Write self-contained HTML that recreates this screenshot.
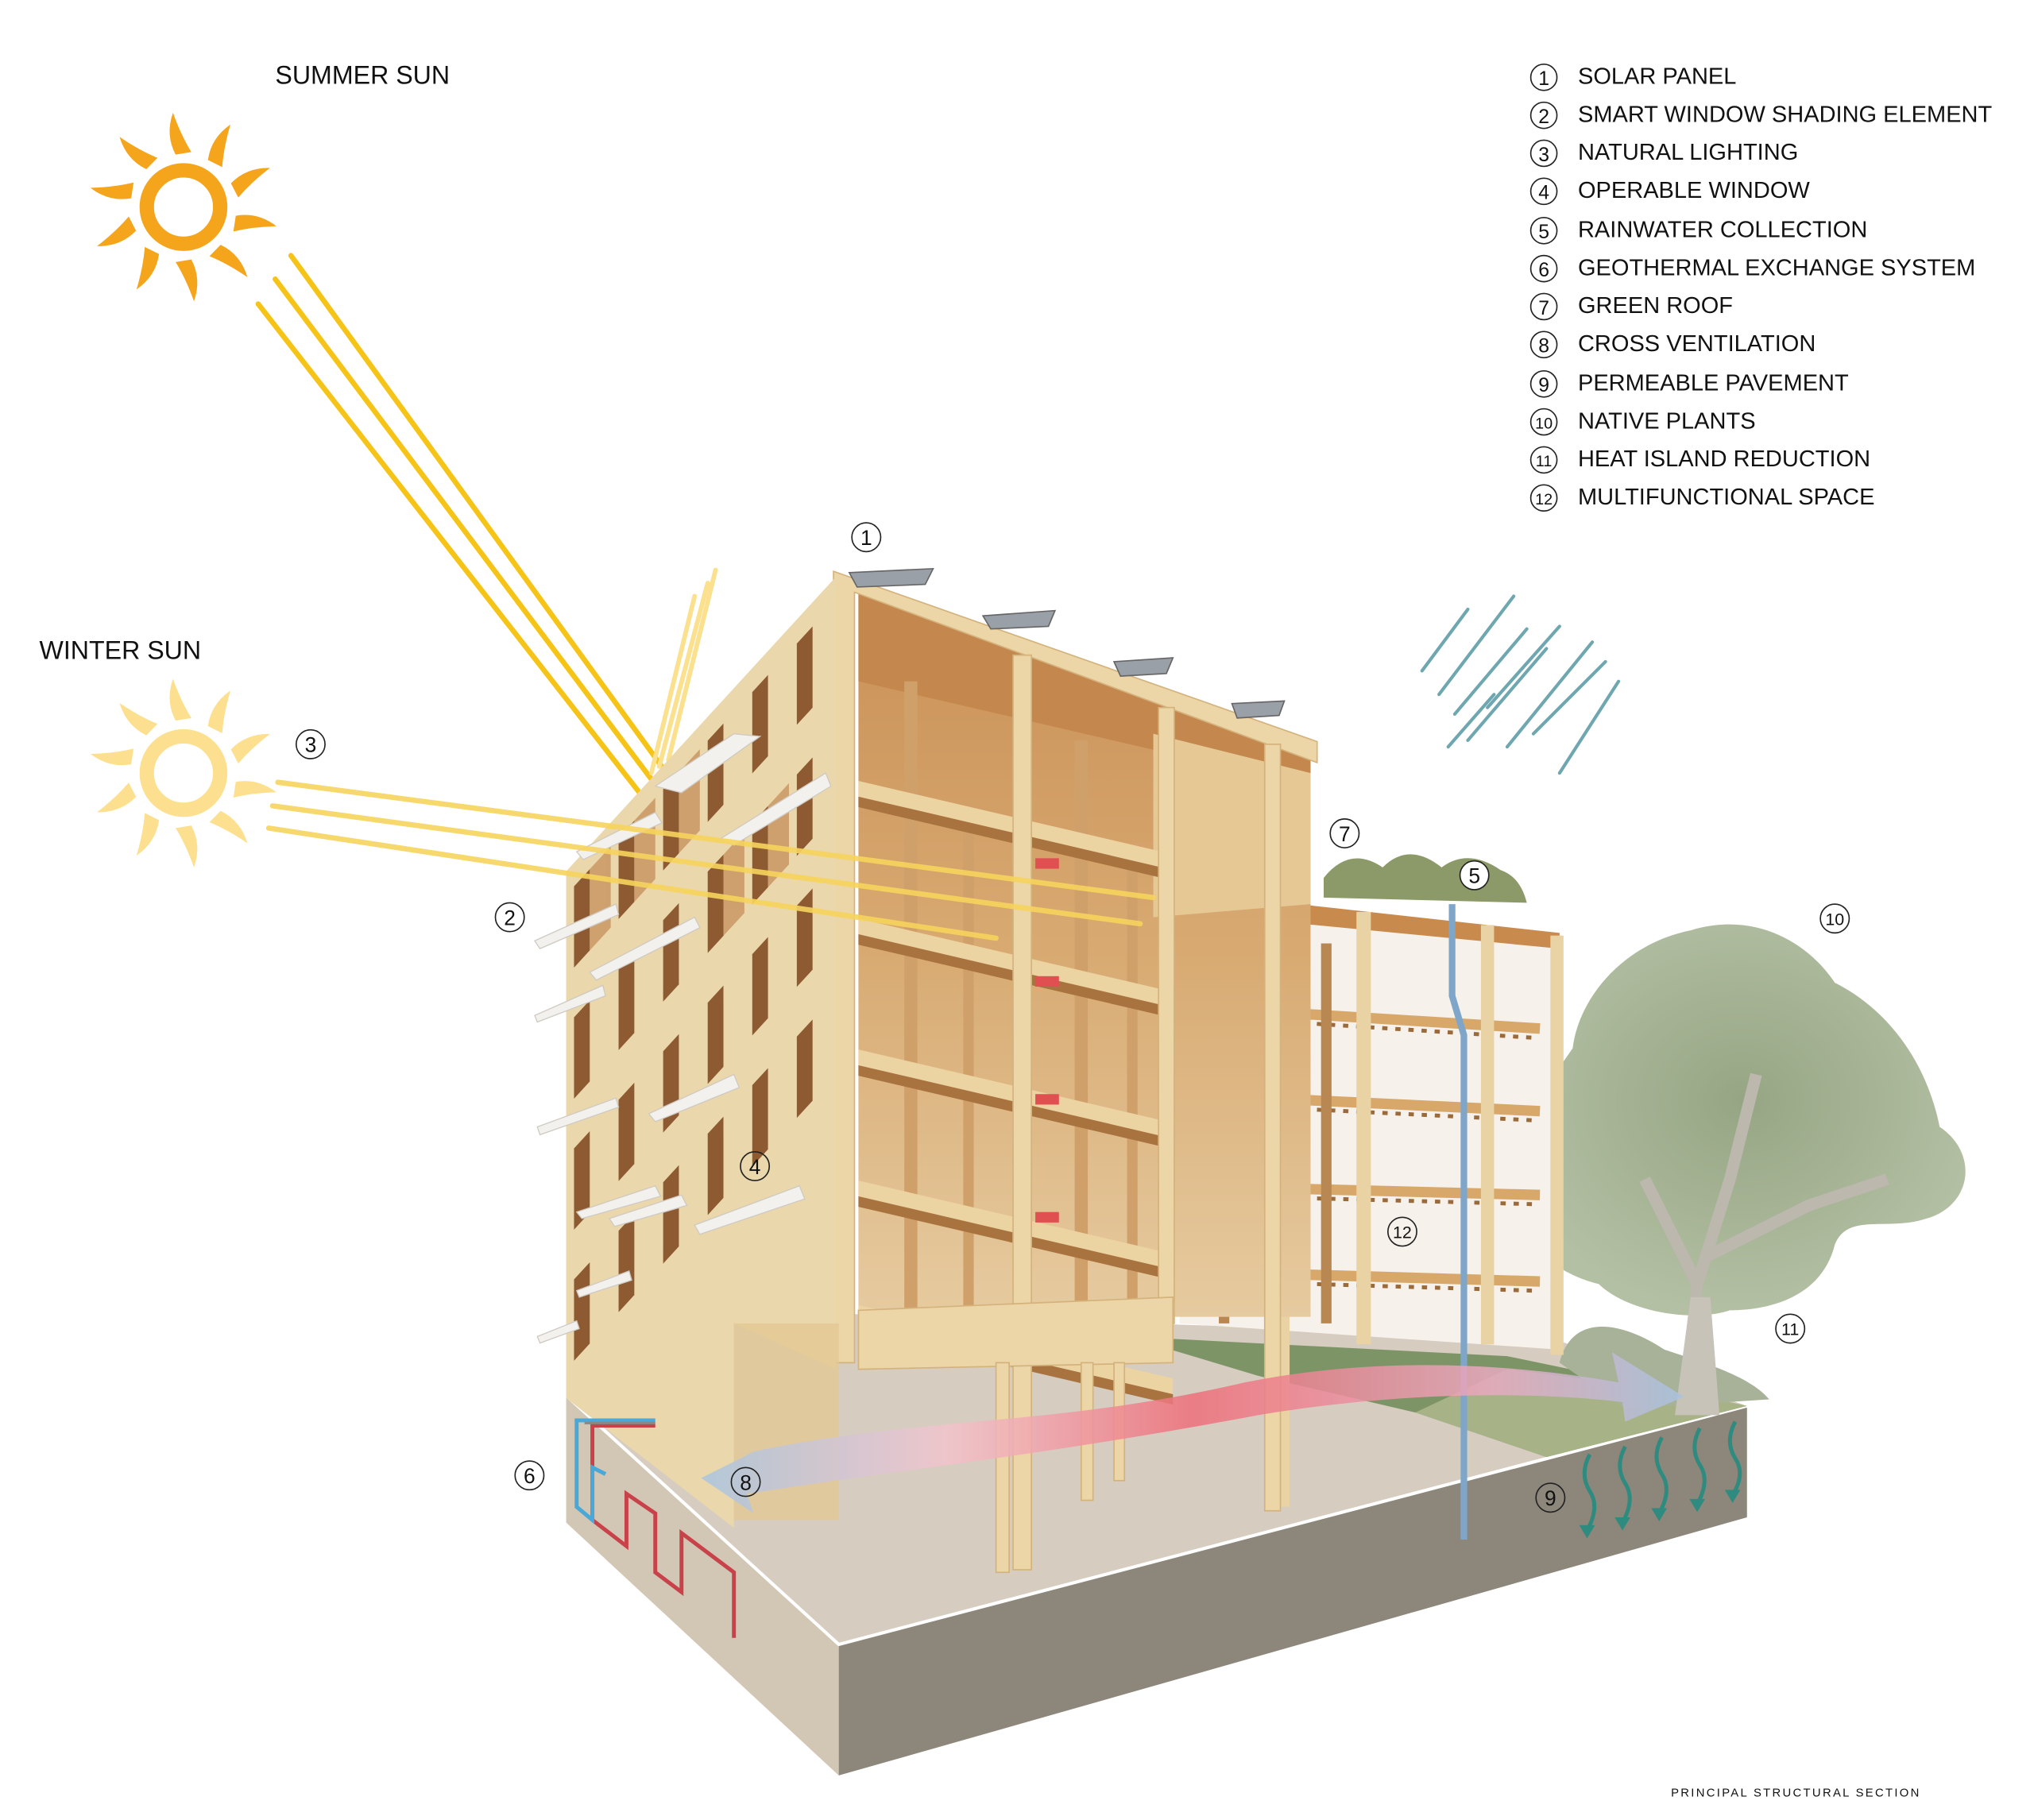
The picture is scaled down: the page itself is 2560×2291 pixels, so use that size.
<!DOCTYPE html>
<html><head><meta charset="utf-8"><style>
html,body{margin:0;padding:0;background:#fff;}
svg{display:block;}
text{font-family:"Liberation Sans",sans-serif;fill:#111;}
</style></head><body>
<svg width="2560" height="2291" viewBox="0 0 1552 1389" preserveAspectRatio="none" xmlns="http://www.w3.org/2000/svg">
<defs>
<linearGradient id="intg" x1="0" y1="0" x2="0" y2="1"><stop offset="0" stop-color="#c98f55"/><stop offset="0.5" stop-color="#d8aa72"/><stop offset="1" stop-color="#e6cba0"/></linearGradient>
<linearGradient id="wind" x1="0" y1="0" x2="1" y2="0"><stop offset="0" stop-color="#a9c6e0"/><stop offset="0.25" stop-color="#f2c4cc"/><stop offset="0.5" stop-color="#ee6f7a"/><stop offset="0.8" stop-color="#e9a9bf"/><stop offset="1" stop-color="#a9c3e0"/></linearGradient>
<radialGradient id="tree" cx="0.5" cy="0.45" r="0.55"><stop offset="0" stop-color="#96a684"/><stop offset="1" stop-color="#b4c0a4"/></radialGradient>
</defs>

<!-- legend -->
<g font-size="17.6">
<circle cx="1178" cy="59" r="10" fill="none" stroke="#222" stroke-width="1"/><text x="1178" y="65" font-size="15" text-anchor="middle">1</text><text x="1204" y="64">SOLAR PANEL</text>
<circle cx="1178" cy="88" r="10" fill="none" stroke="#222" stroke-width="1"/><text x="1178" y="94" font-size="15" text-anchor="middle">2</text><text x="1204" y="93">SMART WINDOW SHADING ELEMENT</text>
<circle cx="1178" cy="117" r="10" fill="none" stroke="#222" stroke-width="1"/><text x="1178" y="123" font-size="15" text-anchor="middle">3</text><text x="1204" y="122">NATURAL LIGHTING</text>
<circle cx="1178" cy="146" r="10" fill="none" stroke="#222" stroke-width="1"/><text x="1178" y="152" font-size="15" text-anchor="middle">4</text><text x="1204" y="151">OPERABLE WINDOW</text>
<circle cx="1178" cy="176" r="10" fill="none" stroke="#222" stroke-width="1"/><text x="1178" y="182" font-size="15" text-anchor="middle">5</text><text x="1204" y="181">RAINWATER COLLECTION</text>
<circle cx="1178" cy="205" r="10" fill="none" stroke="#222" stroke-width="1"/><text x="1178" y="211" font-size="15" text-anchor="middle">6</text><text x="1204" y="210">GEOTHERMAL EXCHANGE SYSTEM</text>
<circle cx="1178" cy="234" r="10" fill="none" stroke="#222" stroke-width="1"/><text x="1178" y="240" font-size="15" text-anchor="middle">7</text><text x="1204" y="239">GREEN ROOF</text>
<circle cx="1178" cy="263" r="10" fill="none" stroke="#222" stroke-width="1"/><text x="1178" y="269" font-size="15" text-anchor="middle">8</text><text x="1204" y="268">CROSS VENTILATION</text>
<circle cx="1178" cy="293" r="10" fill="none" stroke="#222" stroke-width="1"/><text x="1178" y="299" font-size="15" text-anchor="middle">9</text><text x="1204" y="298">PERMEABLE PAVEMENT</text>
<circle cx="1178" cy="322" r="10" fill="none" stroke="#222" stroke-width="1"/><text x="1178" y="327" font-size="12" text-anchor="middle">10</text><text x="1204" y="327">NATIVE PLANTS</text>
<circle cx="1178" cy="351" r="10" fill="none" stroke="#222" stroke-width="1"/><text x="1178" y="356" font-size="12" text-anchor="middle">11</text><text x="1204" y="356">HEAT ISLAND REDUCTION</text>
<circle cx="1178" cy="380" r="10" fill="none" stroke="#222" stroke-width="1"/><text x="1178" y="385" font-size="12" text-anchor="middle">12</text><text x="1204" y="385">MULTIFUNCTIONAL SPACE</text>
</g>

<text x="210" y="64" font-size="19.5">SUMMER SUN</text>
<text x="30" y="503" font-size="19.5">WINTER SUN</text>
<text x="1275" y="1371" font-size="9" letter-spacing="1.4">PRINCIPAL STRUCTURAL SECTION</text>

<!-- summer sun -->
<g transform="translate(140,158)" fill="#f5a51c">
<circle r="28" fill="none" stroke="#f5a51c" stroke-width="11"/>
<g id="rays">
<path d="M-6,-40 Q-14,-55 -8,-72 Q-2,-55 6,-42Z"/>
<path d="M-6,-40 Q-14,-55 -8,-72 Q-2,-55 6,-42Z" transform="rotate(36)"/>
<path d="M-6,-40 Q-14,-55 -8,-72 Q-2,-55 6,-42Z" transform="rotate(72)"/>
<path d="M-6,-40 Q-14,-55 -8,-72 Q-2,-55 6,-42Z" transform="rotate(108)"/>
<path d="M-6,-40 Q-14,-55 -8,-72 Q-2,-55 6,-42Z" transform="rotate(144)"/>
<path d="M-6,-40 Q-14,-55 -8,-72 Q-2,-55 6,-42Z" transform="rotate(180)"/>
<path d="M-6,-40 Q-14,-55 -8,-72 Q-2,-55 6,-42Z" transform="rotate(216)"/>
<path d="M-6,-40 Q-14,-55 -8,-72 Q-2,-55 6,-42Z" transform="rotate(252)"/>
<path d="M-6,-40 Q-14,-55 -8,-72 Q-2,-55 6,-42Z" transform="rotate(288)"/>
<path d="M-6,-40 Q-14,-55 -8,-72 Q-2,-55 6,-42Z" transform="rotate(324)"/>
</g></g>
<!-- winter sun -->
<g transform="translate(140,590)" fill="#fde08f">
<circle r="28" fill="none" stroke="#fde08f" stroke-width="11"/>
<use href="#rays"/>
</g>

<!-- summer rays -->
<g stroke="#f6c417" stroke-width="4" stroke-linecap="round">
<line x1="222" y1="195" x2="505" y2="585"/>
<line x1="210" y1="213" x2="498" y2="596"/>
<line x1="197" y1="232" x2="488" y2="605"/>
</g>
<g stroke="#fbe08e" stroke-width="3.5" stroke-linecap="round">
<line x1="497" y1="590" x2="530" y2="455"/>
<line x1="503" y1="585" x2="540" y2="445"/>
<line x1="510" y1="580" x2="546" y2="435"/>
</g>

<!-- ground slab -->
<polygon points="432,1065 640,1255 640,1355 432,1162" fill="#d2c6b4"/>
<polygon points="640,1255 1333,1073 1333,1158 640,1355" fill="#8d867a"/>
<polygon points="432,1065 560,1000 1180,1020 1333,1073 640,1255" fill="#d6ccc0"/>
<polyline points="432,1065 640,1255 1333,1073" fill="none" stroke="#fff" stroke-width="2.5"/>
<polygon points="860,1020 1150,1035 1333,1073 1180,1112 1080,1078 960,1050" fill="#7c9466"/>
<polygon points="1080,1078 1180,1112 1333,1073 1270,1060 1150,1045" fill="#a8b287"/>

<!-- tree -->
<g>
<path d="M1160,900 C1150,860 1180,830 1200,800 C1205,760 1240,720 1290,710 C1340,695 1380,720 1400,750 C1440,770 1470,810 1480,860 C1510,880 1505,920 1470,930 C1440,940 1410,925 1400,950 C1390,990 1350,1000 1320,1000 C1290,1010 1240,1000 1220,980 C1180,970 1150,940 1160,900Z" fill="url(#tree)"/>
<path d="M1190,1040 C1200,1000 1240,1010 1270,1030 C1300,1040 1335,1050 1350,1068 L1240,1075Z" fill="#a7b298"/>
<path d="M1285,1078 L1295,980 L1255,900 M1295,980 L1320,900 L1340,820 M1300,960 L1380,920 L1440,900" stroke="#bcb8ae" stroke-width="9" fill="none"/>
<path d="M1278,1080 L1290,990 L1305,990 L1312,1080Z" fill="#c7c3b8"/>
</g>

<!-- green arrows 9 -->
<g stroke="#2f8b7f" stroke-width="3" fill="none">
<path d="M1213,1110 q-8,15 0,28 q8,12 -2,30"/>
<path d="M1240,1104 q-8,15 0,28 q8,12 -2,30"/>
<path d="M1268,1097 q-8,15 0,28 q8,12 -2,30"/>
<path d="M1297,1090 q-8,15 0,28 q8,12 -2,30"/>
<path d="M1324,1085 q-8,15 0,28 q8,12 -2,28"/>
</g>
<g fill="#2f8b7f">
<polygon points="1205,1164 1217,1164 1211,1174"/><polygon points="1232,1158 1244,1158 1238,1168"/><polygon points="1260,1151 1272,1151 1266,1161"/><polygon points="1289,1144 1301,1144 1295,1154"/><polygon points="1316,1137 1328,1137 1322,1147"/>
</g>

<!-- lower right block -->
<g>
<polygon points="900,690 1190,718 1190,1030 900,1010" fill="#f6f1ea"/>
<polygon points="900,700 1000,705 1000,1000 900,1000" fill="#e8cc9c" opacity="0.5"/>
<g stroke="#d8a86a" stroke-width="8">
<line x1="900" y1="768" x2="1175" y2="785"/>
<line x1="900" y1="835" x2="1175" y2="848"/>
<line x1="900" y1="905" x2="1175" y2="912"/>
<line x1="900" y1="970" x2="1175" y2="978"/>
</g>
<g stroke="#9b6a3a" stroke-width="3" stroke-dasharray="4 6">
<line x1="905" y1="775" x2="1170" y2="792"/>
<line x1="905" y1="842" x2="1170" y2="855"/>
<line x1="905" y1="912" x2="1170" y2="919"/>
<line x1="905" y1="977" x2="1170" y2="985"/>
</g>
<polygon points="900,680 1190,712 1190,724 900,696" fill="#c98a4e"/>
<g fill="#e9d2a3">
<rect x="972" y="690" width="12" height="460"/>
<rect x="1035" y="696" width="11" height="330"/>
<rect x="1130" y="706" width="10" height="320"/>
<rect x="1183" y="714" width="10" height="320"/>
<rect x="1008" y="720" width="8" height="290" fill="#b98752"/>
<rect x="930" y="720" width="8" height="290" fill="#b98752"/>
</g>
<path d="M1010,670 q20,-25 45,-8 q20,-20 45,0 q20,-15 45,2 q15,5 20,25 L1010,685Z" fill="#8b9a68"/>
</g>

<!-- main interior -->
<polygon points="655,447 1000,573 1000,1005 655,1005" fill="url(#intg)"/>
<polygon points="655,447 1000,573 1000,600 655,520" fill="#c4874d"/>
<polygon points="880,560 1000,590 1000,690 880,700" fill="#e6c895"/>
<g fill="#d0a06a">
<rect x="690" y="520" width="10" height="480"/><rect x="820" y="565" width="10" height="430"/><rect x="735" y="620" width="8" height="380"/><rect x="860" y="660" width="8" height="340"/>
</g>
<g>
<g id="fl"><polygon points="655,596 895,652 895,664 655,608" fill="#ecd3a2"/><polygon points="655,608 895,664 895,672 655,616" fill="#a8733f"/></g>
<use href="#fl" transform="translate(0,105)"/>
<use href="#fl" transform="translate(0,205)"/>
<use href="#fl" transform="translate(0,305)"/>
<use href="#fl" transform="translate(0,400)"/>
</g>
<g fill="#e05050"><rect x="790" y="655" width="18" height="8"/><rect x="790" y="745" width="18" height="8"/><rect x="790" y="835" width="18" height="8"/><rect x="790" y="925" width="18" height="8"/></g>
<g fill="#ecd5a6" stroke="#d4b27c" stroke-width="1">
<polygon points="636,436 1005,566 1005,582 652,452 652,1040 636,1040"/>
<rect x="773" y="500" width="14" height="698"/>
<rect x="965" y="568" width="12" height="585"/>
<rect x="884" y="540" width="12" height="470"/>
<polygon points="655,1000 895,990 895,1040 655,1045"/>
<rect x="760" y="1040" width="10" height="160"/>
<rect x="825" y="1040" width="9" height="105"/>
<rect x="850" y="1040" width="8" height="90"/>
</g>
<g fill="#9aa0a8" stroke="#666" stroke-width="1">
<polygon points="648,437 712,434 706,446 654,448"/>
<polygon points="750,470 805,466 800,478 756,480"/>
<polygon points="850,505 895,502 890,514 855,516"/>
<polygon points="940,537 980,535 976,546 944,548"/>
</g>

<!-- left facade -->
<polygon points="432,665 638,440 638,1045 560,1010 560,1166 432,1067" fill="#ead7ab"/>
<g transform="matrix(1,-1.09,0,1,432,665)">
<g fill="#8d5a32">
<g id="wr">
<rect x="6" y="18" width="12" height="62"/><rect x="40" y="18" width="12" height="62"/><rect x="74" y="18" width="12" height="62"/><rect x="108" y="18" width="12" height="62"/><rect x="142" y="18" width="12" height="62"/><rect x="176" y="18" width="12" height="62"/>
</g>
<use href="#wr" transform="translate(0,100)"/>
<use href="#wr" transform="translate(0,200)"/>
<use href="#wr" transform="translate(0,300)"/>
</g>
<g fill="#c38a55" opacity="0.7">
<rect x="18" y="18" width="16" height="62"/><rect x="52" y="18" width="16" height="62"/><rect x="86" y="18" width="16" height="62"/><rect x="120" y="118" width="16" height="62"/><rect x="154" y="118" width="16" height="62"/>
</g>
</g>
<g fill="#f3f1ee" stroke="#cfcac2" stroke-width="0.8">
<polygon points="500,600 560,560 580,562 520,605"/>
<polygon points="550,640 630,590 634,600 560,645"/>
<polygon points="440,650 500,620 505,628 445,656"/>
<polygon points="408,718 470,690 472,698 412,724"/>
<polygon points="450,742 530,700 534,708 455,748"/>
<polygon points="408,775 460,752 462,760 410,780"/>
<polygon points="495,850 560,820 564,830 500,856"/>
<polygon points="410,860 470,838 472,845 412,866"/>
<polygon points="440,925 500,905 504,913 444,930"/>
<polygon points="530,935 610,905 614,915 534,942"/>
<polygon points="465,930 520,912 524,920 469,936"/>
<polygon points="410,1020 440,1008 442,1014 412,1025"/>
<polygon points="440,985 480,970 482,977 442,990"/>
</g>
<rect x="560" y="1010" width="80" height="150" fill="#e2c894" opacity="0.8"/>

<g stroke="#f7d45d" stroke-width="4" stroke-linecap="round" opacity="0.9">
<line x1="212" y1="597" x2="880" y2="685"/>
<line x1="208" y1="615" x2="870" y2="705"/>
<line x1="205" y1="632" x2="760" y2="716"/>
</g>

<path d="M1108,690 V760 L1117,790 V1175" stroke="#7fa6c9" stroke-width="5" fill="none"/>

<path d="M565,1110 C700,1080 800,1090 950,1055 C1050,1035 1150,1040 1235,1055 L1230,1032 L1285,1066 L1240,1085 L1238,1070 C1150,1060 1050,1065 960,1080 C800,1110 700,1120 570,1140 L575,1155 L535,1128 L575,1108Z" fill="url(#wind)" opacity="0.85"/>

<path d="M500,1088 H452 V1160 L478,1180 V1140 L500,1155 V1200 L520,1215 V1170 L560,1200 V1250" stroke="#c9424a" stroke-width="3" fill="none"/>
<path d="M500,1084 H440 V1150 L452,1160 V1120 L462,1125" stroke="#4aa8d8" stroke-width="3" fill="none"/>
<path d="M500,1086 H446" stroke="#888" stroke-width="2"/>

<g stroke="#6ea7b0" stroke-width="2.5" stroke-linecap="round">
<line x1="1085" y1="512" x2="1120" y2="465"/><line x1="1098" y1="530" x2="1155" y2="455"/>
<line x1="1110" y1="545" x2="1165" y2="480"/><line x1="1120" y1="565" x2="1180" y2="495"/>
<line x1="1135" y1="540" x2="1190" y2="478"/><line x1="1150" y1="570" x2="1215" y2="490"/>
<line x1="1170" y1="560" x2="1225" y2="505"/><line x1="1190" y1="590" x2="1235" y2="520"/>
<line x1="1105" y1="570" x2="1140" y2="530"/>
</g>

<g fill="#fff" stroke="#222" stroke-width="1">
<circle cx="661" cy="410" r="11"/><circle cx="389" cy="700" r="11"/><circle cx="237" cy="568" r="11"/>
<circle cx="576" cy="890" r="11" fill="none"/><circle cx="1125" cy="668" r="11"/><circle cx="404" cy="1126" r="11"/>
<circle cx="1026" cy="636" r="11"/><circle cx="569" cy="1131" r="11" fill="none"/><circle cx="1183" cy="1143" r="11" fill="none"/>
<circle cx="1400" cy="701" r="11"/><circle cx="1366" cy="1014" r="11"/><circle cx="1070" cy="940" r="11" fill="none"/>
</g>
<g font-size="16" text-anchor="middle">
<text x="661" y="416">1</text><text x="389" y="706">2</text><text x="237" y="574">3</text><text x="576" y="896">4</text>
<text x="1125" y="674">5</text><text x="404" y="1132">6</text><text x="1026" y="642">7</text><text x="569" y="1137">8</text>
<text x="1183" y="1149">9</text>
<text x="1400" y="706" font-size="13">10</text><text x="1366" y="1019" font-size="13">11</text><text x="1070" y="945" font-size="13">12</text>
</g>
</svg>
</body></html>
